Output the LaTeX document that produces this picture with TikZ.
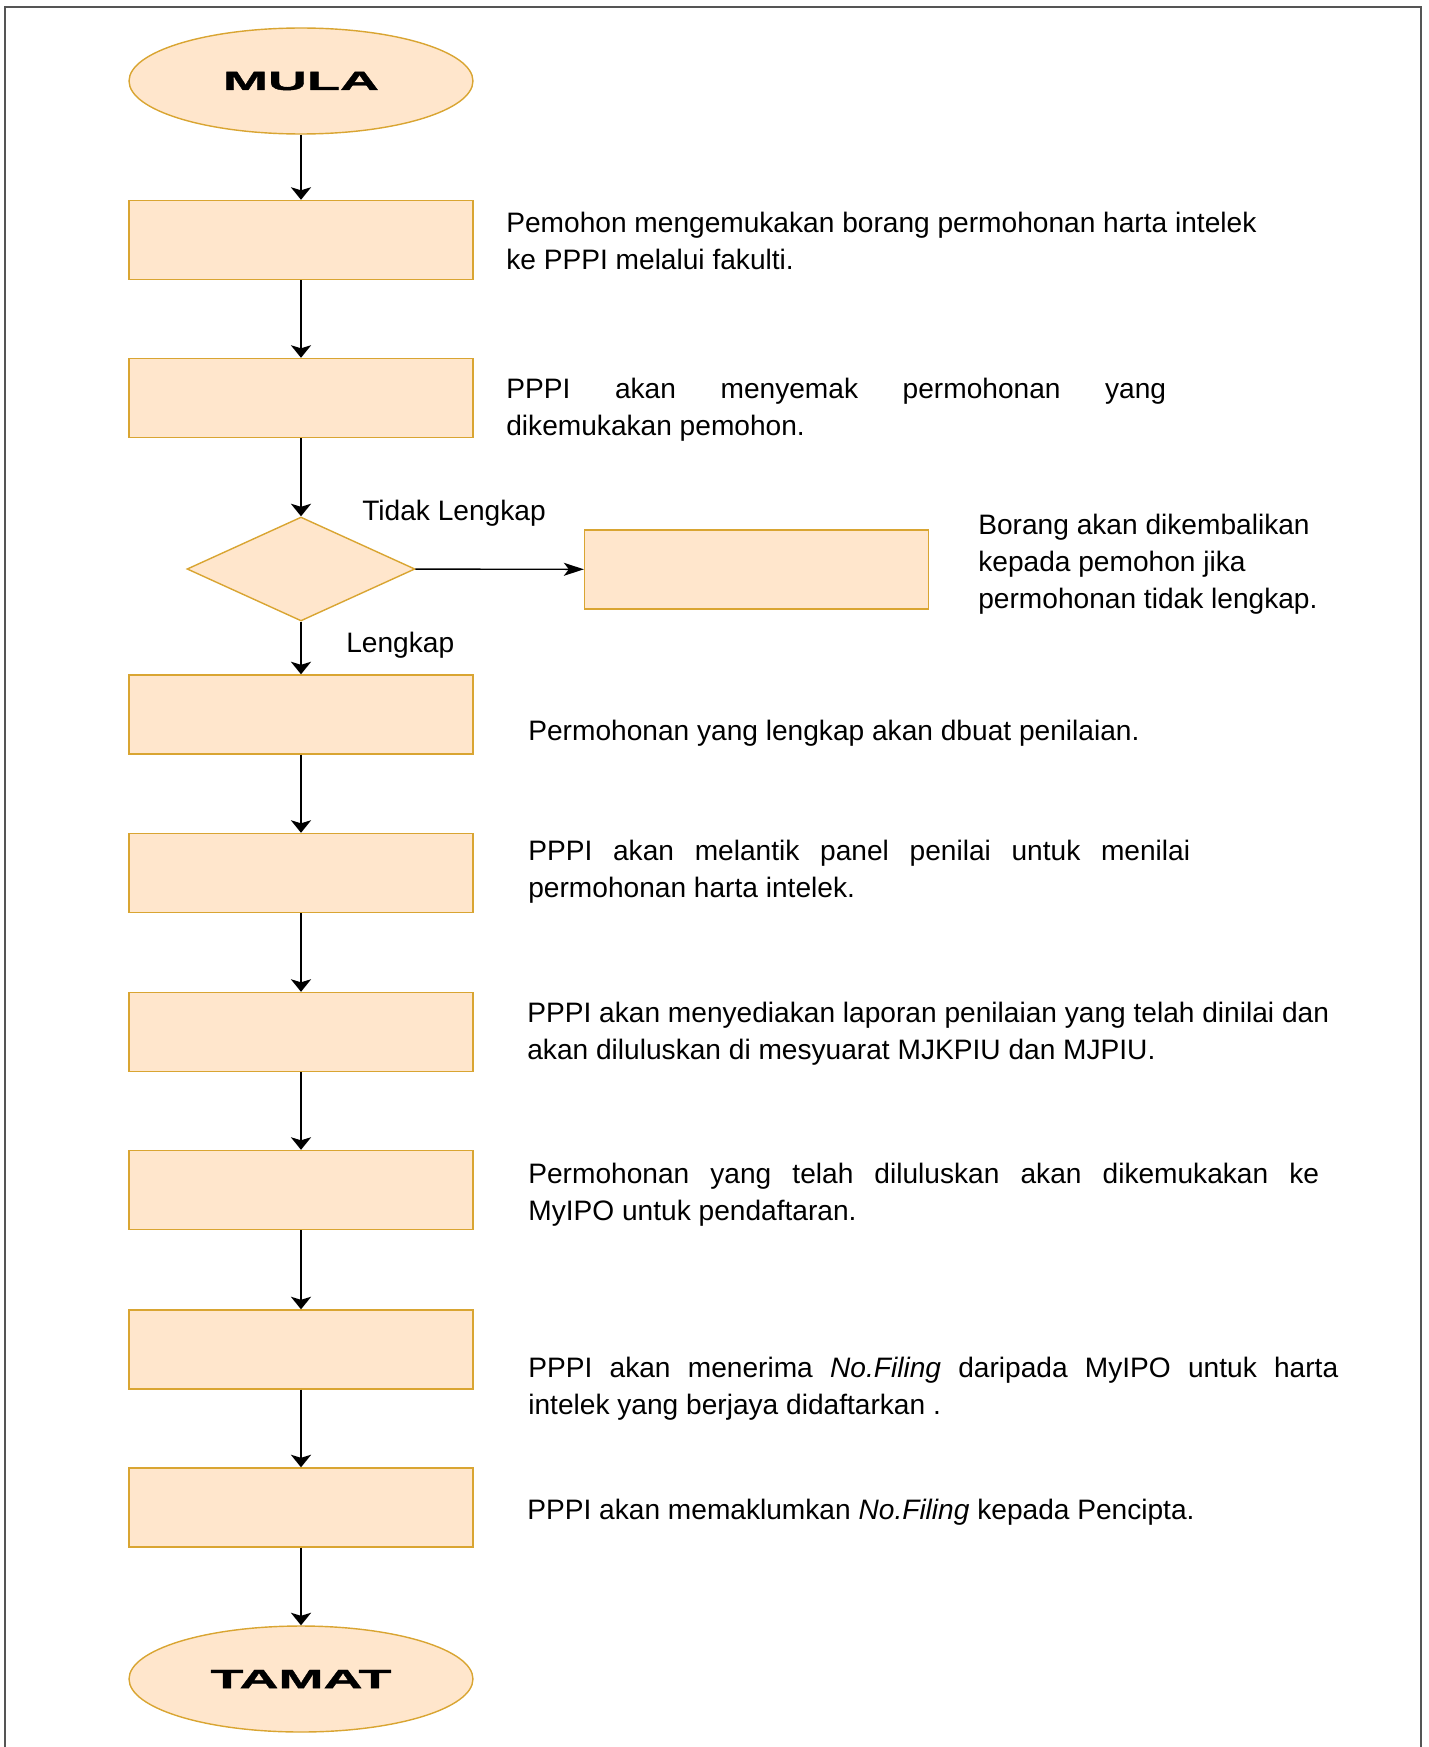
\documentclass[tikz,border=0pt]{standalone}
\usepackage{fontspec}
\setmainfont{Liberation Sans}
\newfontfamily\termfont[FakeStretch=2.05,FakeBold=1.5]{Liberation Sans}
\usetikzlibrary{shapes.geometric,arrows.meta}

\definecolor{boxfill}{HTML}{FFE6CC}
\definecolor{boxline}{HTML}{D9A532}
\definecolor{framecol}{HTML}{555555}

\begin{document}
\begin{tikzpicture}[
		x={(0.02cm,0cm)},
		y={(0cm,-0.02cm)},
		font=\fontsize{16pt}{21pt}\selectfont,
		proc/.style={draw=boxline,fill=boxfill,line width=0.8pt,minimum width=6.88cm,minimum height=1.58cm,inner sep=0pt},
		term/.style={ellipse,draw=boxline,fill=boxfill,line width=0.8pt,minimum width=6.88cm,minimum height=2.12cm,inner sep=0pt,font=\termfont\bfseries\fontsize{15pt}{18pt}\selectfont},
		decide/.style={diamond,draw=boxline,fill=boxfill,line width=0.8pt,minimum width=4.56cm,minimum height=2.08cm,inner sep=0pt},
		desc/.style={anchor=north west,inner sep=0pt,align=left},
		just/.style={anchor=north west,inner sep=0pt,align=justify,text width=#1},
		flow/.style={-{Stealth[length=0.25cm,width=0.4cm,inset=0.06cm]},line width=1.4pt},
	]
		\useasboundingbox (0,0) rectangle (1428,1747);
		\draw[framecol,line width=1.2pt] (5,1747) -- (5,7) -- (1421,7) -- (1421,1747);

		% flow shapes
		\node[term] (mula) at (301,81) {MULA};
		\foreach \n/\y in {1/240,2/398,3/714.5,4/873,5/1032,6/1190,7/1349.5,8/1507.5}{
			\node[proc] (b\n) at (301,\y) {};
		}
		\node[decide] (semak) at (301,569) {};
		\node[proc] (balik) at (756.5,569.5) {};
		\node[term] (tamat) at (301,1679) {TAMAT};

		% connectors
		\draw[flow] (mula) -- (b1);
		\draw[flow] (b1) -- (b2);
		\draw[flow] (b2) -- (semak);
		\draw[flow] (semak) -- (b3);
		\draw[-{Stealth[length=0.4cm,width=0.26cm,inset=0.1cm]},line width=0.8pt] (semak) -- (balik);
		\foreach \a/\b in {3/4,4/5,5/6,6/7,7/8}{
			\draw[flow] (b\a) -- (b\b);
		}
		\draw[flow] (b8) -- (tamat);

		% labels
		\node[desc] (tidak) at (362,500) {Tidak Lengkap};
		\node[desc] (lengkap) at (346,632) {Lengkap};

		% descriptions
		\node[desc] (d1) at (506,212) {Pemohon mengemukakan borang permohonan harta intelek\\ke PPPI melalui fakulti.};
		\node[just=13.2cm] (d2) at (506,378) {PPPI akan menyemak permohonan yang\linebreak dikemukakan pemohon.};
		\node[desc] (d3) at (978,514) {Borang akan dikembalikan\\kepada pemohon jika\\permohonan tidak lengkap.};
		\node[desc] (d4) at (528,720) {Permohonan yang lengkap akan dbuat penilaian.};
		\node[just=13.24cm] (d5) at (528,840) {PPPI akan melantik panel penilai untuk menilai\linebreak permohonan harta intelek.};
		\node[desc] (d6) at (527,1002) {PPPI akan menyediakan laporan penilaian yang telah dinilai dan\\akan diluluskan di mesyuarat MJKPIU dan MJPIU.};
		\node[just=15.82cm] (d7) at (528,1163) {Permohonan yang telah diluluskan akan dikemukakan ke\linebreak MyIPO untuk pendaftaran.};
		\node[just=16.2cm] (d8) at (528,1357) {PPPI akan menerima \textit{No.Filing} daripada MyIPO untuk harta\linebreak intelek yang berjaya didaftarkan .};
		\node[desc] (d9) at (527,1499) {PPPI akan memaklumkan \textit{No.Filing} kepada Pencipta.};
	\end{tikzpicture}
\end{document}
